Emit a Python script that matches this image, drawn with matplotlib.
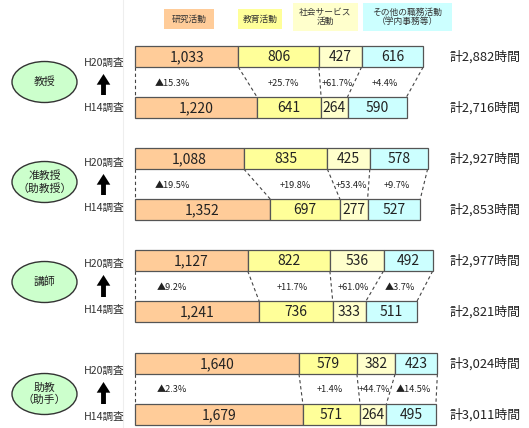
import numpy as np
import matplotlib
matplotlib.use("Agg")
import matplotlib.pyplot as plt
from matplotlib.patches import Ellipse, Rectangle

plt.rcParams['font.family'] = ['Noto Sans CJK JP', 'DejaVu Sans']

# ---------------- data ----------------
positions = ["教授", "准教授\n（助教授）", "講師", "助教\n（助手）"]
categories = ["研究活動", "教育活動", "社会サービス\n活動", "その他の職務活動\n（学内事務等）"]
h20 = [
    [1033, 806, 427, 616],
    [1088, 835, 425, 578],
    [1127, 822, 536, 492],
    [1640, 579, 382, 423],
]
h14 = [
    [1220, 641, 264, 590],
    [1352, 697, 277, 527],
    [1241, 736, 333, 511],
    [1679, 571, 264, 495],
]
total_h20 = [2882, 2927, 2977, 3024]
total_h14 = [2716, 2853, 2821, 3011]
changes = [
    ["▲15.3%", "+25.7%", "+61.7%", "+4.4%"],
    ["▲19.5%", "+19.8%", "+53.4%", "+9.7%"],
    ["▲9.2%", "+11.7%", "+61.0%", "▲3.7%"],
    ["▲2.3%", "+1.4%", "+44.7%", "▲14.5%"],
]
survey_labels = ["H20調査", "H14調査"]
colors = ["#FFCC99", "#FFFF99", "#FFFFCC", "#CCFFFF"]

# ---------------- layout ----------------
W, H = 529, 428
X0, S = 135.0, 0.1   # pixel of 0 hours, pixels per hour

def hx(px):
    return (px - X0) / S

fig = plt.figure(figsize=(W / 100, H / 100), dpi=100)
ax = fig.add_axes([0, 0, 1, 1])
ax.set_xlim(hx(0), hx(W))
ax.set_ylim(H, 0)
ax.axis("off")

# faint separator line
ax.plot([hx(123), hx(123)], [0, H], color="#EEEEEE", lw=0.8, zorder=0)

# legend
leg_boxes = [(164, 9, 50, 20), (238, 9, 44, 20), (293, 3, 65, 28), (363, 3, 89, 28)]
for (x, y, w, h), c, lab in zip(leg_boxes, colors, categories):
    ax.add_patch(Rectangle((hx(x), y), w / S, h, facecolor=c, edgecolor="none"))
    ax.text(hx(x + w / 2), y + h / 2, lab, ha="center", va="center",
            fontsize=6.3, linespacing=1.1, color="#333333")

bar_h = 21
group_top = [46, 148, 250, 353]
ell_y = [82, 182, 282, 394]
lab20_y = [63, 163, 264, 371]
lab14_y = [108, 208, 310, 417]

for i in range(4):
    y20 = group_top[i] + bar_h / 2
    y14 = group_top[i] + 51 + bar_h / 2
    a = np.array(h20[i])
    b = np.array(h14[i])
    la = np.concatenate([[0], np.cumsum(a)[:-1]])
    lb = np.concatenate([[0], np.cumsum(b)[:-1]])
    ax.barh(y20, a, left=la, height=bar_h, color=colors, edgecolor="#555555", lw=0.9, zorder=3)
    ax.barh(y14, b, left=lb, height=bar_h, color=colors, edgecolor="#555555", lw=0.9, zorder=3)
    for k in range(4):
        ax.text(la[k] + a[k] / 2, y20 + 0.5, f"{a[k]:,}", ha="center", va="center",
                fontsize=10, color="#222222", zorder=4)
        ax.text(lb[k] + b[k] / 2, y14 + 0.5, f"{b[k]:,}", ha="center", va="center",
                fontsize=10, color="#222222", zorder=4)
    ax.text(hx(450), y20, f"計{total_h20[i]:,}時間", ha="left", va="center", fontsize=9.3, color="#222222")
    ax.text(hx(450), y14, f"計{total_h14[i]:,}時間", ha="left", va="center", fontsize=9.3, color="#222222")

    # dashed connectors
    ba = np.concatenate([[0], np.cumsum(a)])
    bb = np.concatenate([[0], np.cumsum(b)])
    for p, q in zip(ba, bb):
        ax.plot([p, q], [y20 + bar_h / 2, y14 - bar_h / 2], color="#444444", lw=0.8,
                ls=(0, (3, 2.5)), zorder=2)
    # change labels
    ymid = (y20 + y14) / 2
    for k in range(4):
        if k == 0:
            xc = hx(172)
        else:
            xc = ((la[k] + a[k] / 2) + (lb[k] + b[k] / 2)) / 2
        ax.text(xc, ymid + 1, changes[i][k], ha="center", va="center", fontsize=6.6, color="#222222")

    # left column
    ax.add_patch(Ellipse((hx(44.5), ell_y[i]), 65 / S, 41, facecolor="#CCFFCC",
                         edgecolor="#333333", lw=1.0))
    ax.text(hx(44.5), ell_y[i], positions[i],
            ha="center", va="center", fontsize=7.8, linespacing=1.2, color="#222222")
    ax.text(hx(104), lab20_y[i], survey_labels[0], ha="center", va="center", fontsize=7.6, color="#333333")
    ax.text(hx(104), lab14_y[i], survey_labels[1], ha="center", va="center", fontsize=7.6, color="#333333")
    ax.annotate("", xy=(hx(103.5), lab20_y[i] + 11), xytext=(hx(103.5), lab14_y[i] - 13),
                arrowprops=dict(arrowstyle="simple,head_width=0.7,head_length=0.55,tail_width=0.25",
                                color="black", lw=0, shrinkA=0, shrinkB=0, mutation_scale=14))

fig.savefig("out.png", dpi=100)
